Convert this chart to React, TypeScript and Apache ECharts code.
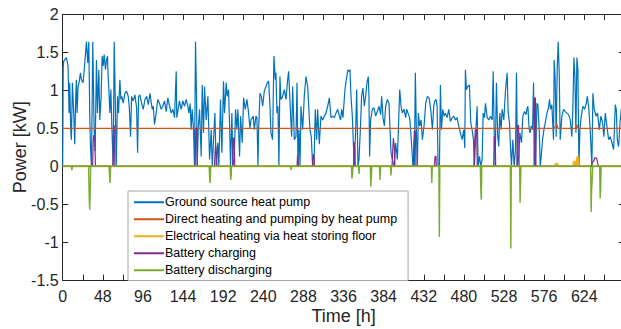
import React, { useEffect, useRef } from "react";
import * as echarts from "echarts";

const seriesNames = [
  "Ground source heat pump",
  "Direct heating and pumping by heat pump",
  "Electrical heating via heat storing floor",
  "Battery charging",
  "Battery discharging",
];
const seriesColors = ["#0072BD", "#D95319", "#EDB120", "#7E2F8E", "#77AC30"];

const xMin = 0;
const xMax = 672;
const xTickStep = 24;
const xLabelStep = 48;
const yMin = -1.5;
const yMax = 2;
const yTickStep = 0.5;

// [hour, kW]
const groundSourceHeatPump: [number, number][] = [
  [0, 0], [0.6, 1.3], [1.2, 1.38], [2.4, 1.4], [4.4, 1.43], [6.4, 1.32], [7.6, 0.7], [8.4, 1.1], [9.6, 0.48], [10.4, 0.35], [11.6, 1.1], [13.2, 0.7], [14.4, 0.29], [15.6, 0.92], [16.4, 1.14], [17.2, 0.7], [18.4, 1.05], [19.6, 1.1], [21.2, 1.23], [22.4, 1.14], [24.4, 1.1], [26.4, 1.36], [28.4, 1.64], [30, 1.36], [31.2, 1.64], [32.4, 0.66], [33.2, 0.26], [34.4, 0], [36, 1.64], [37.6, 0.48], [38.8, 0.2], [40.4, 1.4], [41.6, 0.7], [43.2, 1.27], [44.4, 0.61], [46, 0.92], [47.2, 1.45], [48.4, 1.32], [49.6, 1.47], [51.2, 1.27], [52.4, 1.4], [53.6, 1.45], [54.4, 1.18], [55.6, 0.92], [56.4, 0.7], [57.6, 1.01], [58.8, 0.53], [59.6, 0.26], [60.4, 0], [61.6, 1.64], [62.8, 0.92], [64, 0], [65.6, 0.92], [66.8, 0.7], [68.4, 1.14], [69.6, 0.88], [70.8, 0.92], [72.4, 0.83], [74.4, 0.96], [76.4, 0.99], [78.4, 0.92], [79.6, 0.79], [81.2, 0.39], [82.4, 0.92], [84.4, 0.86], [86.4, 0.94], [88.4, 0.77], [89.6, 0.18], [90.8, 0.92], [92.4, 0.94], [94.4, 0.83], [96.4, 0.75], [98.4, 0.88], [100.4, 0.92], [102.4, 0.81], [104.4, 0.96], [105.6, 0.86], [107.2, 0.75], [108.4, 0.79],
  [109.8, 0.55], [111.8, 0.7], [113.8, 0.88], [115.8, 0.83], [117.8, 0.75], [119.8, 0.79], [121.8, 0.86], [123.8, 0.72], [125.8, 0.9], [127.8, 0.79], [129.8, 0.7], [131.8, 0.75], [133.8, 0.64], [135.8, 1.25], [136.5, 0.64], [139.7, 0.86], [141.7, 0.75], [143.7, 0.86], [145.7, 0.79], [147.7, 0.88], [149.7, 0.79], [150.9, 0.7], [152.5, 0.83], [153.7, 0.48], [154.9, 0.75], [156.5, 0.48], [157.7, 0], [158.9, 1.64], [160.1, 0.92], [160.9, 0], [162.1, 0.48], [163.7, 0.75], [165.7, 0.13], [166.9, 1.07], [168.5, 0.44], [169.7, 1.05], [171.7, 0.61], [173.7, 0.92], [175.7, 0.09], [177.7, 0.48], [178.9, 0], [180.5, 0.35], [182.1, 0.7], [183.6, 0], [185.6, 0.31], [186.8, 0], [188.8, 0.88], [190.4, 0.18], [192.4, 1.12], [193.6, 0.7], [195.6, 1.1], [196.8, 0.92], [198.4, 1.01], [199.6, 0.57], [200.8, 0], [202.4, 0.7], [203.6, 0], [205.2, 0.09], [206.8, 0.75], [208.4, 0.48], [209.6, 0.75], [211.6, 0.13], [212.8, 0.66], [214.8, 0.31], [216.4, 0.9], [218.4, 0.75], [220.4, 0.88],
  [222.4, 0.7], [224, 0.5], [225.2, 0.61], [228, 0.66], [229.2, 0.48], [231.2, 0.66], [232.4, 0.64], [233.6, 0], [234.4, 0.48], [236, 0.96], [237.6, 0.92], [239.2, 0.79], [241.2, 0.99], [243.2, 1.05], [244.8, 1.1], [246.4, 1.12], [248, 0.79], [249.1, 0.44], [251.1, 0.35], [252.7, 1.45], [254.3, 1.14], [255.1, 1.23], [256.3, 0.7], [257.5, 0.79], [258.7, 0], [259.9, 1.18], [261.1, 0.88], [263.1, 0.92], [265.1, 1.01], [267.1, 0.88], [269.1, 1.14], [270.3, 1.25], [272.3, 0.75], [273.9, 0.39], [275.1, 1.05], [277.1, 0.35], [279.1, 0.39], [280.3, 1.1], [281.5, 0], [282.7, 0.48], [283.9, 0], [285.1, 0.79], [287.1, 0.48], [289.1, 0.94], [291.1, 1.18], [293.1, 1.05], [294.3, 0.79], [295.8, 0.48], [297.4, 0.39], [299, 0], [300.6, 0], [302.2, 0.75], [303.8, 0.35], [305, 0.75], [307, 0.29], [309, 0.66], [311, 0.61], [313, 0.66], [315, 0.7], [317, 0.79], [319, 0.9], [321, 0.64], [323, 0.66], [325, 0.64], [327, 0.7], [329, 0.75], [331, 0.66],
  [332.5, 0.61], [333.7, 0.75], [335.3, 0.64], [337.7, 1.01], [339.3, 1.14], [341.3, 1.27], [342.5, 1.25], [343.7, 1.27], [344.9, 0.92], [346.5, 0.66], [347.7, 0.31], [348.9, 0], [350.5, 0.48], [351.7, 1.01], [353.3, 0], [354.5, 0.09], [356.1, 0.48], [357.6, 0.92], [359.2, 1.03], [360.8, 0.79], [362.4, 0.92], [364, 1.1], [365.6, 1.18], [366.4, 0.92], [367.2, 0.13], [368.4, 0.61], [370.4, 0.75], [372.4, 0.77], [374.4, 0.66], [376.4, 0.72], [378.4, 0.79], [380.4, 0.68], [381.6, 0.92], [383.2, 0.64], [384.8, 0.53], [386.4, 0.79], [388.4, 0.88], [390.4, 0.83], [391.6, 0.48], [392.8, 0.18], [394.4, 0.09], [395.6, 0.04], [396.8, 0], [398.4, 0.31], [400.4, 0.09], [401.6, 0.48], [403.2, 1.01], [404.8, 0.79], [406.3, 0.7], [408.3, 0.75], [410.3, 0.64], [411.5, 0.75], [413.1, 0.7], [415.1, 0.64], [416.3, 0.48], [417.5, 0.26], [419.1, 0], [420.7, 0], [421.9, 1.23], [423.1, 0.48], [424.3, 0], [425.5, 0.7], [427.1, 0.53], [428.7, 0.61], [430.3, 0.35], [432.3, 0.53], [434.3, 0.83], [436.3, 0.92], [438.3, 0.9], [440.3, 0.75], [442.3, 0.48],
  [443.9, 0.79], [445.1, 0.86], [446.7, 0.88], [447.9, 0.79], [449.1, 0], [450.7, 0], [451.9, 1.07], [453.1, 0.48], [454.7, 0.75], [456.3, 0.66], [457.9, 0.7], [459.9, 0.64], [461.9, 0.75], [463.9, 0.59], [465.9, 0.64], [467.9, 0.66], [469.9, 0.61], [471.8, 0.64], [473.8, 0.53], [475.8, 0.44], [477.8, 0.35], [479.8, 0.48], [481, 0.24], [481.8, 1.27], [483, 1.01], [484.6, 1.05], [486.6, 1.07], [488.2, 0.57], [489.8, 0.48], [491.4, 0.35], [492.6, 0], [494.2, 0.44], [495.8, 0.79], [497, 0], [498.6, 0.13], [500.2, 0], [501.8, 0.09], [503, 0.7], [504.6, 0.64], [505.8, 0.83], [507.8, 0.64], [509.8, 0.61], [511.8, 0.66], [513.8, 0.61], [515, 1.25], [516.2, 0.48], [517.3, 0], [518.9, 1.1], [520.5, 0.39], [521.7, 0.26], [522.9, 0.7], [524.5, 0.48], [525.7, 0.75], [527.7, 0.61], [529.7, 0.99], [531.7, 1.23], [532.9, 0.72], [534.5, 0.57], [535.7, 0.26], [536.9, 0], [538.5, 0.35], [540.1, 0], [541.7, 0.22], [542.9, 1.23], [544.1, 0], [545.7, 0.13], [546.9, 0.44], [548.9, 0.31], [550.5, 0.66], [552.5, 0.72], [554.5, 0.68],
  [555.3, 0.75], [556.5, 0.79], [558.1, 0.48], [559.3, 0.44], [560.5, 0.53], [562.1, 0.48], [563.3, 1.1], [564.5, 0], [565.7, 0], [567.3, 0.83], [568.5, 0.81], [570.1, 0.48], [571.3, 0], [572.5, 0.13], [574.1, 0.35], [575.7, 0.48], [577.3, 0.57], [579.3, 0.7], [581.2, 0.77], [582.4, 0.88], [583.6, 0.75], [585.2, 0.81], [587.2, 0.35], [588, 1.4], [589.2, 1.14], [590.4, 0.39], [591.6, 1.27], [592.8, 1.64], [594, 1.23], [595.2, 0.35], [597.2, 0.66], [599.2, 0.75], [601.2, 0.72], [603.2, 0.7], [605.2, 0.68], [607.2, 0.61], [609.2, 0.39], [610.4, 0.79], [611.6, 1.43], [612.8, 1.18], [614, 0.44], [615.2, 1.43], [616.4, 1.27], [617.6, 0], [618.8, 0.48], [620.4, 0.66], [622.4, 0.79], [624.4, 0.75], [626.4, 0.83], [627.6, 0.92], [629.2, 0.79], [631.1, 0.48], [633.1, 0], [634.3, 0.96], [635.9, 0.75], [637.9, 0.66], [639.9, 0.7], [641.9, 0.48], [643.9, 0.66], [645.9, 0.57], [647.5, 0.39], [649.1, 0.7], [651.1, 0.53], [653.1, 0.35], [655.1, 0.39], [657.1, 0.31], [659.1, 0.22], [661.1, 0.81], [662.3, 0.75], [663.5, 0.35], [665.1, 0.26], [666.7, 0.57], [668.3, 0.75],
];

const directHeatingByHeatPump: [number, number][] = [
  [0, 0.5], [588, 0.5], [589.6, 0.53], [591, 0.56], [592.4, 0.5], [614.6, 0.5], [615.4, 0.55], [616.4, 0.5], [668.3, 0.5],
];

const floorElectricalHeating: [number, number][] = [
  [0, 0], [588.8, 0], [589.6, 0.03], [591, 0.04], [592.4, 0.02], [593, 0], [610.8, 0], [611.4, 0.06], [612.6, 0.06], [613.2, 0], [614.4, 0], [615, 0.1], [616.2, 0.13], [617, 0], [668.3, 0],
];

const batteryCharging: [number, number][] = [
  [0, 0], [35.8, 0], [36.4, 0.3], [37.2, 0.41], [38.4, 0.38], [39.2, 0], [60, 0], [60.8, 0.3], [61.6, 0.54], [62.4, 0],
  [158.5, 0], [159.3, 0.5], [160.5, 0.5], [161, 0], [181.5, 0], [182.3, 0.18], [183, 0.28], [184.2, 0.1], [184.6, 0],
  [203.4, 0], [204, 0.37], [205.2, 0.37], [205.8, 0], [280.4, 0], [281, 0.15], [281.8, 0.15], [282.2, 0],
  [298.8, 0], [299.4, 0.15], [300.6, 0.15], [301, 0], [348, 0], [348.6, 0.32], [349.6, 0.2], [350, 0],
  [394, 0], [394.8, 0.2], [395.6, 0.37], [396.8, 0.25], [397.4, 0], [419.4, 0], [420, 0.3], [420.8, 0.46], [422, 0.46], [422.6, 0],
  [444.8, 0], [445.4, 0.13], [446.6, 0.13], [447, 0], [492, 0], [492.8, 0.3], [493.6, 0.48], [495.2, 0.48], [496, 0],
  [515.6, 0], [516.2, 0.39], [517.4, 0.39], [518, 0], [543.4, 0], [544, 0.54], [545.4, 0.54], [546, 0],
  [564, 0], [564.5, 0.9], [565.5, 0.9], [566, 0], [632.8, 0], [633.6, 0.06], [635, 0.06], [636.5, 0.11], [638.5, 0.11], [640, 0.05], [640.8, 0], [668.3, 0],
];

const batteryDischarging: [number, number][] = [
  [0, 0], [10.5, 0], [11, -0.05], [11.5, 0], [31, 0], [31.8, -0.45], [32.3, -0.57], [33, -0.3], [33.4, 0],
  [55.4, 0], [56.2, -0.15], [56.6, -0.22], [57.4, 0], [175.2, 0], [175.8, -0.15], [176.4, -0.22], [177.2, 0],
  [200.4, 0], [201, -0.18], [201.6, -0.12], [202, 0], [272.6, 0], [273.2, -0.05], [273.8, 0],
  [345.4, 0], [346, -0.16], [346.8, -0.1], [347.2, 0], [354, 0], [354.6, -0.1], [355.2, 0],
  [368, 0], [368.6, -0.27], [369.4, -0.1], [369.8, 0], [379, 0], [379.6, -0.18], [380.4, 0],
  [392.2, 0], [392.8, -0.12], [393.4, 0], [441, 0], [441.6, -0.22], [442.2, 0], [450, 0], [450.6, -0.93], [451.2, 0],
  [499.6, 0], [500.2, -0.3], [500.8, -0.44], [501.4, 0], [535.5, 0], [536.1, -1.08], [536.7, 0],
  [546.6, 0], [547.2, -0.48], [547.8, -0.2], [548.2, 0], [631.6, 0], [632.2, -0.6], [632.8, -0.3], [633.4, -0.2], [634, 0],
  [642.4, 0], [643, -0.42], [643.6, -0.3], [644.2, 0], [668.3, 0],
];

const seriesData = [
  groundSourceHeatPump,
  directHeatingByHeatPump,
  floorElectricalHeating,
  batteryCharging,
  batteryDischarging,
];
const seriesWidths = [1.2, 1.2, 2, 1.2, 1.4];

export default function App() {
  const ref = useRef<HTMLDivElement>(null);
  useEffect(() => {
    const chart = echarts.init(ref.current!, null, { renderer: "svg" });
    const font = "'Liberation Sans', Arial, Helvetica, sans-serif";
    const axisColor = "#262626";
    const gridBox = { left: 62.7, top: 14.3, width: 561.7, height: 266 };
    const baseX = {
      type: "value",
      min: xMin,
      max: xMax,
      interval: xTickStep,
      splitLine: { show: false },
      axisLine: { show: true, onZero: false, lineStyle: { color: axisColor, width: 1 } },
      axisTick: { show: true, inside: true, length: 5.6, lineStyle: { color: axisColor, width: 1 } },
    };
    const baseY = {
      type: "value",
      min: yMin,
      max: yMax,
      interval: yTickStep,
      splitLine: { show: false },
      axisLine: { show: true, onZero: false, lineStyle: { color: axisColor, width: 1 } },
      axisTick: { show: true, inside: true, length: 5.6, lineStyle: { color: axisColor, width: 1 } },
    };
    chart.setOption({
      animation: false,
      backgroundColor: "#ffffff",
      textStyle: { fontFamily: font },
      grid: { ...gridBox, containLabel: false, outerBoundsMode: "none" },
      xAxis: [
        {
          ...baseX,
          position: "bottom",
          axisLabel: {
            show: true,
            margin: 8,
            fontSize: 16,
            color: axisColor,
            fontFamily: font,
            formatter: (v: number) => (v % xLabelStep === 0 && v < xMax ? String(v) : ""),
          },
          name: "Time [h]",
          nameLocation: "middle",
          nameGap: 27,
          nameMoveOverlap: false,
          nameTextStyle: { fontSize: 18, color: axisColor, fontFamily: font },
        },
        { ...baseX, position: "top", axisLabel: { show: false } },
      ],
      yAxis: [
        {
          ...baseY,
          position: "left",
          axisLabel: { show: true, margin: 4, fontSize: 16, color: axisColor, fontFamily: font },
          name: "Power [kW]",
          nameLocation: "middle",
          nameGap: 34,
          nameMoveOverlap: false,
          nameTextStyle: { fontSize: 18, color: axisColor, fontFamily: font },
        },
        { ...baseY, position: "right", axisLabel: { show: false } },
      ],
      legend: {
        show: true,
        orient: "vertical",
        left: 128,
        top: 191,
        padding: [4.75, 11, 3.75, 5],
        itemWidth: 30,
        itemHeight: 12.5,
        itemGap: 4,
        backgroundColor: "#ffffff",
        borderColor: "#a8a8a8",
        borderWidth: 1,
        borderRadius: 0,
        itemStyle: { opacity: 0 },
        textStyle: { fontSize: 12.5, color: "#000000", fontFamily: font, padding: [0, 0, 0, -4] },
        data: seriesNames,
      },
      series: seriesNames.map((name, i) => ({
        name,
        type: "line",
        xAxisIndex: 0,
        yAxisIndex: 0,
        data: seriesData[i],
        symbol: "none",
        showSymbol: false,
        clip: true,
        color: seriesColors[i],
        lineStyle: { color: seriesColors[i], width: seriesWidths[i] },
        z: 2 + i * 0.01,
      })),
    });
    return () => chart.dispose();
  }, []);
  return (
    <div
      ref={ref}
      style={{ position: "absolute", left: 0, top: 0, width: 621, height: 329 }}
    />
  );
}
